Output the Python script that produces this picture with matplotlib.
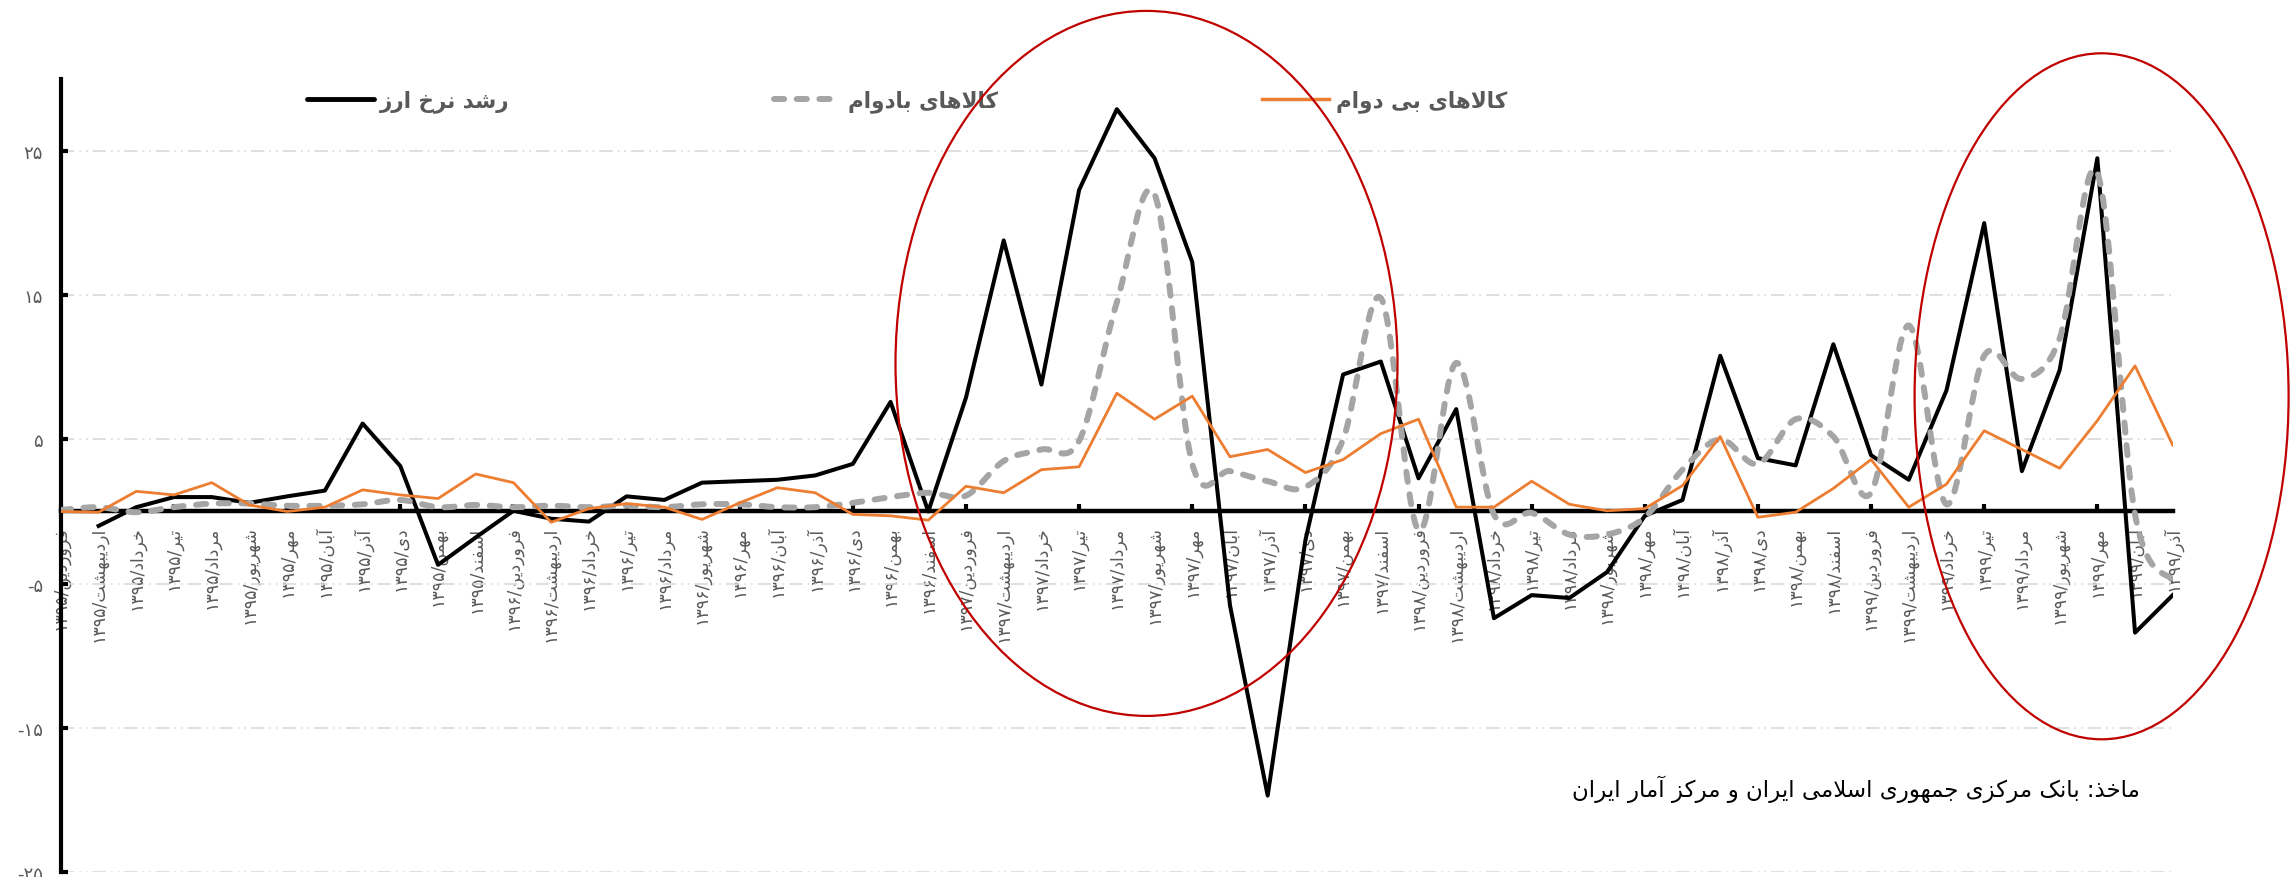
import re
import numpy as np
import matplotlib
matplotlib.use('Agg')
import matplotlib.pyplot as plt
from matplotlib.path import Path
from matplotlib.patches import PathPatch, Ellipse
from matplotlib.lines import Line2D
from matplotlib.ticker import FixedLocator

plt.rcParams['font.family'] = ['DejaVu Sans']

# month names and years for the x labels
months = ['فروردین', 'اردیبهشت', 'خرداد', 'تیر', 'مرداد', 'شهریور',
          'مهر', 'آبان', 'آذر', 'دی', 'بهمن', 'اسفند']
years = ['۱۳۹۵', '۱۳۹۶', '۱۳۹۷', '۱۳۹۸', '۱۳۹۹']
n_points = 57

# رشد نرخ ارز (first month missing)
fx_growth = [np.nan, -1.0, 0.3, 1.0, 1.0, 0.6, 1.05, 1.45, 6.1, 3.15, -3.7, -1.8,
             0.05, -0.5, -0.7, 1.05, 0.8, 2.0, 2.1, 2.2, 2.5, 3.3, 7.6, 0.0,
             7.9, 18.8, 8.8, 22.3, 27.9, 24.5, 17.3, -6.5, -19.7, -2.0, 9.5, 10.4,
             2.3, 7.1, -7.4, -5.8, -6.0, -4.2, -0.3, 0.8, 10.8, 3.7, 3.2, 11.6,
             3.9, 2.2, 8.4, 20.0, 2.8, 9.8, 24.5, -8.4, -5.8]
# کالاهای بادوام
durable = [0.1, 0.3, -0.05, 0.3, 0.55, 0.55, 0.4, 0.4, 0.5, 0.8, 0.3, 0.45,
           0.3, 0.4, 0.3, 0.4, 0.3, 0.5, 0.5, 0.3, 0.3, 0.6, 1.0, 1.3,
           1.1, 3.5, 4.3, 4.9, 14.5, 22.0, 3.3, 2.8, 2.1, 1.7, 5.0, 14.8,
           -1.3, 10.3, -0.2, -0.1, -1.6, -1.6, -0.4, 2.9, 5.0, 3.3, 6.4, 5.2,
           1.3, 12.9, 0.5, 10.8, 9.2, 12.0, 23.5, -0.2, -4.8]
# کالاهای بی دوام
nondurable = [0.0, -0.05, 1.4, 1.15, 2.0, 0.45, 0.0, 0.3, 1.5, 1.15, 0.9, 2.6,
              2.0, -0.75, 0.2, 0.55, 0.3, -0.55, 0.6, 1.65, 1.3, -0.2, -0.3, -0.6,
              1.75, 1.3, 2.9, 3.1, 8.2, 6.4, 8.0, 3.8, 4.3, 2.7, 3.6, 5.4,
              6.4, 0.3, 0.3, 2.1, 0.5, 0.05, 0.2, 1.8, 5.2, -0.4, -0.05, 1.6,
              3.6, 0.3, 1.9, 5.6, 4.3, 3.0, 6.3, 10.1, 4.6]

yticks = [-25, -15, -5, 5, 15, 25]

# presentation forms: isolated, final, initial, medial
FORMS = {
    '\u0627': ('\uFE8D', '\uFE8E', None, None),
    '\u0622': ('\uFE81', '\uFE82', None, None),
    '\u0628': ('\uFE8F', '\uFE90', '\uFE91', '\uFE92'),
    '\u062A': ('\uFE95', '\uFE96', '\uFE97', '\uFE98'),
    '\u062C': ('\uFE9D', '\uFE9E', '\uFE9F', '\uFEA0'),
    '\u062E': ('\uFEA5', '\uFEA6', '\uFEA7', '\uFEA8'),
    '\u062F': ('\uFEA9', '\uFEAA', None, None),
    '\u0630': ('\uFEAB', '\uFEAC', None, None),
    '\u0631': ('\uFEAD', '\uFEAE', None, None),
    '\u0632': ('\uFEAF', '\uFEB0', None, None),
    '\u0633': ('\uFEB1', '\uFEB2', '\uFEB3', '\uFEB4'),
    '\u0634': ('\uFEB5', '\uFEB6', '\uFEB7', '\uFEB8'),
    '\u0641': ('\uFED1', '\uFED2', '\uFED3', '\uFED4'),
    '\u0644': ('\uFEDD', '\uFEDE', '\uFEDF', '\uFEE0'),
    '\u0645': ('\uFEE1', '\uFEE2', '\uFEE3', '\uFEE4'),
    '\u0646': ('\uFEE5', '\uFEE6', '\uFEE7', '\uFEE8'),
    '\u0647': ('\uFEE9', '\uFEEA', '\uFEEB', '\uFEEC'),
    '\u0648': ('\uFEED', '\uFEEE', None, None),
    '\u06A9': ('\uFB8E', '\uFB8F', '\uFB90', '\uFB91'),
    '\u06CC': ('\uFBFC', '\uFBFD', '\uFBFE', '\uFBFF'),
}


def shape(text):
    # join letters and reorder right-to-left for matplotlib
    text = text.replace('\u064A', '\u06CC').replace('\u0643', '\u06A9')
    out = []
    i = 0
    while i < len(text):
        c = text[i]
        if c not in FORMS:
            out.append(c)
            i += 1
            continue
        prev = text[i - 1] if i > 0 else ''
        nxt = text[i + 1] if i + 1 < len(text) else ''
        joins_prev = prev in FORMS and FORMS[prev][2] is not None
        if c == '\u0644' and nxt == '\u0627':
            out.append('\uFEFC' if joins_prev else '\uFEFB')
            i += 2
            continue
        joins_next = nxt in FORMS and FORMS[c][2] is not None
        iso, fin, ini, med = FORMS[c]
        if joins_prev and joins_next:
            out.append(med)
        elif joins_prev:
            out.append(fin)
        elif joins_next:
            out.append(ini)
        else:
            out.append(iso)
        i += 1
    tokens = re.findall(r'[0-9\u06F0-\u06F9]+|.', ''.join(out))
    return ''.join(reversed(tokens))


def fa_num(v):
    s = str(abs(v)).translate(str.maketrans('0123456789', '۰۱۲۳۴۵۶۷۸۹'))
    return '-' + s if v < 0 else s


def smooth_path(x, y):
    verts = [(x[0], y[0])]
    codes = [Path.MOVETO]
    for i in range(len(x) - 1):
        p0 = max(i - 1, 0)
        p3 = min(i + 2, len(x) - 1)
        c1 = (x[i] + (x[i + 1] - x[p0]) / 6, y[i] + (y[i + 1] - y[p0]) / 6)
        c2 = (x[i + 1] - (x[p3] - x[i]) / 6, y[i + 1] - (y[p3] - y[i]) / 6)
        verts += [c1, c2, (x[i + 1], y[i + 1])]
        codes += [Path.CURVE4] * 3
    return Path(verts, codes)


labels = [shape(m + '/' + y) for y in years for m in months][:n_points]
x = np.arange(n_points)

fig = plt.figure(figsize=(22.9, 8.78), dpi=100)
ax = fig.add_axes([0.0266, 0.0057, 0.9222, 0.9033])

gray = '#A5A5A5'
orange = '#ED7D31'
txt_gray = '#595959'
dash = (0, (1.7, 2.1))

ax.plot(x, fx_growth, color='black', lw=2.9, zorder=3)
ax.add_patch(PathPatch(smooth_path(x, durable), facecolor='none', edgecolor=gray,
                       lw=4.3, linestyle=dash, capstyle='round', zorder=4))
ax.plot(x, nondurable, color=orange, lw=2.0, zorder=5)

ax.set_xlim(0, n_points - 1)
ax.set_ylim(-25, 30)

for s in ['top', 'right']:
    ax.spines[s].set_visible(False)
ax.spines['left'].set_linewidth(3)
ax.spines['bottom'].set_position(('data', 0))
ax.spines['bottom'].set_linewidth(3.2)
ax.spines['bottom'].set_zorder(2)

ax.set_yticks(yticks)
ax.set_yticklabels([fa_num(v) for v in yticks])
ax.tick_params(axis='y', direction='in', length=5, width=3, pad=13,
               labelsize=13, labelcolor=txt_gray)
ax.yaxis.grid(True, color='#D9D9D9', lw=1.2, linestyle=(0, (8, 3, 1, 3, 1, 3)))
ax.set_axisbelow(True)

ax.xaxis.remove_overlapping_locs = False
ax.set_xticks(x)
ax.set_xticklabels(labels, rotation=90, va='top', ha='center')
ax.xaxis.set_minor_locator(FixedLocator(range(0, n_points, 3)))
ax.tick_params(axis='x', which='major', length=0, pad=10, labelsize=12.5,
               labelcolor=txt_gray)
ax.tick_params(axis='x', which='minor', direction='in', length=5, width=3)

handles = [Line2D([], [], color='black', lw=3.5, solid_capstyle='round'),
           Line2D([], [], color=gray, lw=4.3, linestyle=dash,
                  dash_capstyle='round'),
           Line2D([], [], color=orange, lw=2.5)]
names = [shape('رشد نرخ ارز'), shape('کالاهای بادوام'), shape('کالاهای بی دوام')]
ax.legend(handles, names, loc='center left', bbox_to_anchor=(0.134, 0.884),
          bbox_transform=fig.transFigure, ncol=3, frameon=False,
          prop=dict(weight='bold', size=15.5), labelcolor=txt_gray,
          handlelength=3.1, handletextpad=0.3, columnspacing=12.3,
          borderpad=0, borderaxespad=0)

fig.text(0.9345, 0.1014, shape('ماخذ: بانک مرکزی جمهوری اسلامی ایران و مرکز آمار ایران'),
         ha='right', va='center', fontsize=16.5, color='black')

# highlighted periods
fig.add_artist(Ellipse((1146.5 / 2290, 1 - 364.4 / 878), 502 / 2290, 705 / 878,
                       transform=fig.transFigure, fill=False,
                       edgecolor='#C00000', lw=1.6))
fig.add_artist(Ellipse((2101.6 / 2290, 1 - 397.3 / 878), 374 / 2290, 686 / 878,
                       transform=fig.transFigure, fill=False,
                       edgecolor='#C00000', lw=1.6))

fig.savefig('out.png', dpi=100)
